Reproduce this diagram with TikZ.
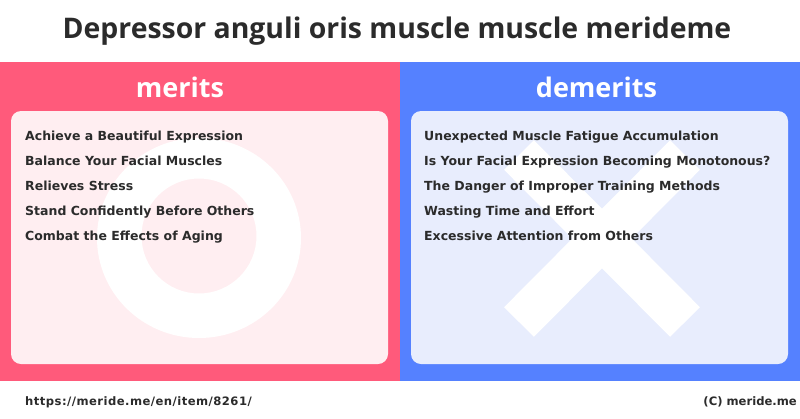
\documentclass[tikz,border=0pt]{standalone}
\usepackage{fontspec}
\setmainfont{DejaVu Sans}
\newfontfamily\headfont{Open Sans}
\newfontfamily\urlfont[LetterSpace=4]{DejaVu Sans}
\definecolor{meritred}{HTML}{FF5A7B}
\definecolor{demeritblue}{HTML}{5581FF}
\definecolor{meritcard}{HTML}{FFEEF1}
\definecolor{demeritcard}{HTML}{E8EDFD}
\definecolor{inkdark}{HTML}{2B2B2B}
\tikzset{
  panelbox/.style={draw=none,minimum width=#1,minimum height=319pt,inner sep=0pt},
  cardbox/.style={draw=none,rounded corners=10pt,minimum width=377pt,minimum height=253pt,inner sep=0pt},
  headlabel/.style={text=white,font=\headfont\bfseries\fontsize{27}{27}\selectfont},
  itemlabel/.style={anchor=base west,text=inkdark,inner sep=0pt,font=\bfseries\fontsize{12.5}{13}\selectfont},
  footlabel/.style={text=inkdark,inner sep=0pt,font=\bfseries\fontsize{11.6}{13}\selectfont}
}
\begin{document}
\begin{tikzpicture}[x=1pt,y=-1pt]
  \useasboundingbox (0,0) rectangle (800,418);
  \fill[white] (0,0) rectangle (800,418);
  \node[anchor=center,text=inkdark,font=\headfont\bfseries\fontsize{28.4}{29}\selectfont] (title) at (397,31) {Depressor anguli oris muscle muscle merideme};
  \draw
    (200,221.5) node[panelbox=400pt,fill=meritred] (leftpanel){}
    (600,221.5) node[panelbox=400pt,fill=demeritblue] (rightpanel){}
    (199.5,237.5) node[cardbox,fill=meritcard] (leftcard){}
    (599.5,237.5) node[cardbox,fill=demeritcard] (rightcard){};
  \node[headlabel] (meritshead) at (180,87) {merits};
  \node[headlabel] (demeritshead) at (596.5,87) {demerits};
  % ring and cross
  \fill[white,even odd rule] (199,238) ellipse [x radius=102pt,y radius=100pt] (199,236) circle (57.5pt);
  \begin{scope}[white,line width=42pt]
    \draw (519,322) -- (685,155);
    \draw (519,155) -- (685,322);
  \end{scope}
  \node[itemlabel] (m1) at (25,140) {Achieve a Beautiful Expression};
  \node[itemlabel] (m2) at (25,165) {Balance Your Facial Muscles};
  \node[itemlabel] (m3) at (25,190) {Relieves Stress};
  \node[itemlabel] (m4) at (25,215) {Stand Confidently Before Others};
  \node[itemlabel] (m5) at (25,240) {Combat the Effects of Aging};
  \node[itemlabel] (d1) at (424,140) {Unexpected Muscle Fatigue Accumulation};
  \node[itemlabel] (d2) at (424,165) {Is Your Facial Expression Becoming Monotonous?};
  \node[itemlabel] (d3) at (424,190) {The Danger of Improper Training Methods};
  \node[itemlabel] (d4) at (424,215) {Wasting Time and Effort};
  \node[itemlabel] (d5) at (424,240) {Excessive Attention from Others};
  \node[footlabel,anchor=base west] (url) at (25,405) {\urlfont https://meride.me/en/item/8261/};
  \node[footlabel,anchor=base east] (copyright) at (797,405) {(C) meride.me};
\end{tikzpicture}
\end{document}
